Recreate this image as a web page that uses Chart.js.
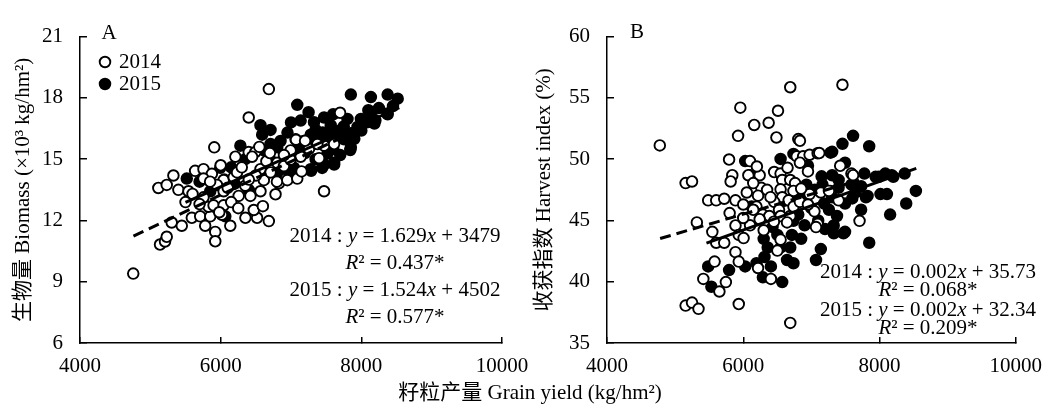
<!DOCTYPE html>
<html>
<head>
<meta charset="utf-8">
<script src="https://cdn.jsdelivr.net/npm/chart.js@4.4.0/dist/chart.umd.min.js"></script>
<style>
  html, body { margin: 0; padding: 0; background: #fff; }
  #wrap { position: relative; width: 1059px; height: 412px; }
  canvas { position: absolute; left: 0; top: 0; }
</style>
</head>
<body>
<div id="wrap">
  <canvas id="chartA" width="1059" height="412"></canvas>
  <canvas id="chartB" width="1059" height="412"></canvas>
</div>
<script>
// grain yield (kg/hm2) vs biomass (x10^3 kg/hm2), panel A
const biomass2014 = [
  [4757,9.40],[5138,10.82],[5209,10.97],[5233,11.20],
  [5114,13.59],[5233,13.74],[5328,14.20],[5399,13.50],[5542,13.43],[5637,14.43],[5756,14.51],[5875,14.28],[5756,14.05],[5600,13.30],
  [5304,11.90],[5447,11.74],[5590,12.13],[5709,12.20],[5780,11.74],[5923,11.44],[5923,10.98],[5852,12.20],[5828,12.67],[5899,12.74],
  [6042,12.74],[6018,12.28],[6137,11.74],[6352,12.13],[6518,12.13],[6685,11.97],[6471,12.51],
  [6256,13.20],[6423,13.20],[6566,13.43],[6614,13.97],[6780,13.28],[6828,13.82],[6947,13.97],[7089,14.05],[6042,13.97],
  [6185,14.12],[6233,14.35],[5947,13.74],[6042,13.43],[5756,13.13],
  [6209,15.12],[6399,15.35],[6494,15.35],[6447,15.12],[6566,14.51],[6709,14.35],[6804,14.82],[6899,14.66],[6994,14.97],
  [7065,15.97],[6994,15.43],[7137,15.12],[7256,15.50],[7399,15.05],[7470,15.66],[7613,15.74],[7375,15.74],
  [5909,15.58],[6399,17.04],[6685,18.43],[7470,13.43],[7698,17.27],[7071,15.95],
  [6100,13.60],[6300,14.60],[6500,14.20],[6650,14.90],[6350,13.70],[6150,12.90],[5980,12.40],[6700,15.30],[6900,15.20],
  [7200,15.90],[6550,15.60],[5700,12.80],[5500,12.90],[6250,12.60],[6600,12.70],[6800,13.90],[7150,14.40],[6400,14.00],
  [6000,14.70],[5850,13.90]
];
const biomass2015 = [
  [7851,18.16],[8136,18.04],[8374,18.16],[8517,17.96],[7089,17.66],
  [6566,16.66],[6709,16.43],[6590,16.20],
  [7137,16.89],[7327,16.81],[7470,17.04],[7351,16.43],[7565,16.66],[7708,16.43],[7803,16.97],[7994,16.97],[8136,17.27],
  [8374,17.20],[8089,16.81],[7946,16.58],[7851,16.27],[7756,15.97],[7661,16.20],[7280,16.20],[7184,15.89],[7375,16.05],
  [7518,16.05],[7851,15.58],[7518,15.27],[7613,14.82],[7470,14.74],[7280,14.51],[6971,14.35],[7042,14.58],[6804,15.58],
  [6851,15.89],[6709,15.74],[6614,15.43],[6280,15.66],[5994,14.58],[5518,14.05],[6066,12.20],[5852,13.43],
  [7843,15.45],[7943,16.41],[8043,16.88],[8186,16.74],[8371,17.24],[7443,14.57],[7614,14.74],[7286,14.43],[8250,17.50],[8450,17.60],
  [7000,15.20],[7100,15.60],[7200,15.30],[7300,15.70],[7400,15.90],[7600,15.50],[7700,15.20],[7900,16.00],[8000,16.40],
  [8200,16.90],[7550,16.40],[7450,16.30],[6950,16.30],[6900,15.00],[7000,16.80],[6450,15.20],[6350,15.00],[6150,14.60],
  [6800,14.30],[7350,15.00],[7750,16.60],[8100,17.40],[7600,17.20],[7250,17.30],[6700,15.00],[6200,13.80],[6400,13.50],
  [5700,13.90],[6050,14.00]
];

// grain yield (kg/hm2) vs harvest index (%), panel B
const harvest2014 = [
  [6690,55.87],[7456,56.07],[4775,51.12],[5957,54.20],[6510,53.95],[6161,52.79],[6373,52.97],[5924,51.90],[6487,51.77],
  [6808,51.64],[6832,51.50],
  [5154,48.05],[5248,48.18],[5485,46.64],[5603,46.64],[5721,46.77],[5886,46.64],[5319,44.84],
  [5546,44.07],[5603,43.18],[5721,43.18],[5886,44.59],[5934,43.82],[6005,43.56],[5886,42.41],[5934,41.64],[5579,41.64],
  [5414,40.23],[5650,39.20],[5745,39.97],[5154,38.05],[5248,38.30],[5343,37.79],[5934,38.18],[6690,36.64],[6217,41.12],
  [6406,40.23],[6501,42.54],[6548,43.43],
  [5792,49.97],[5839,48.69],[5815,48.18],[6099,49.84],[6075,48.69],[6241,48.69],[6265,47.66],[6147,48.05],[6052,47.28],
  [6217,47.02],[6454,48.95],[6548,48.82],[6572,48.30],[6690,48.30],[6761,48.05],[6737,47.41],[6548,47.54],[6572,46.89],
  [6666,46.64],[6454,46.51],[6525,45.87],[6194,46.13],[6288,45.48],[6383,45.36],[6548,45.36],[6690,45.36],[6737,46.13],
  [6832,46.51],[7045,45.74],[7092,44.72],[7068,44.46],[6643,44.84],[6241,45.10],[6147,45.87],
  [6785,50.23],[6879,50.23],[6974,50.36],[7092,50.48],[7116,50.50],[6832,49.71],[7423,49.46],[7588,48.82],[7612,48.69],
  [7399,46.64],[7281,47.41],[7139,47.28],[6974,47.15],[7707,44.97],[7258,47.41],
  [6350,47.50],[6400,46.90],[6000,46.30],[6100,44.60],[6300,44.20],[6450,44.90],[6850,47.60],[6950,46.30],[6000,45.20],
  [5800,45.60],[6650,49.30],[6200,49.40],[6950,49.00]
];
const harvest2015 = [
  [7612,51.90],[7456,51.25],[7849,51.05],[7281,50.53],[6737,50.43],[6548,50.02],[6028,49.84],[6950,49.46],[7305,48.69],
  [7494,49.71],[7305,50.60],
  [7778,48.82],[7943,48.56],[8085,48.82],[8203,48.56],[8369,48.82],[8534,47.41],[8392,46.38],[8156,45.48],[8109,47.15],
  [8014,47.15],[7849,43.18],[7801,46.89],[7730,45.87],[7494,46.38],[7376,45.36],[7494,44.07],[7328,44.59],[7258,45.87],
  [7187,46.38],[7305,46.89],[7399,47.66],[7588,47.92],[7730,47.79],[7163,47.92],[6927,47.92],[6927,46.89],[6808,45.48],
  [6714,43.82],[6690,42.79],[6643,41.77],[6737,41.51],[6501,43.82],[6430,44.46],[6359,42.79],[6312,42.02],[6406,41.25],
  [6288,40.36],[6572,39.97],[6194,41.51],[6028,41.25],[5792,40.95],[5485,41.25],[5532,39.59],[7139,42.66],[7068,41.77],
  [6123,46.13],[6737,44.97],[6099,48.69],
  [7329,43.95],[7471,43.95],[7825,47.00],[7990,48.56],[8180,48.69],
  [7000,46.00],[7100,45.00],[7200,44.30],[6900,44.60],[6600,46.60],[6800,46.90],[7050,47.50],[7600,46.80],[7650,47.30],
  [6850,43.50],[6550,42.80],[6300,43.50],[7150,48.60],[7400,48.30]
];

// trend lines: slope, intercept, x range (A in kg/hm2, shown /1000)
const fitA2014 = { slope: 1.629, icpt: 3479, from: 4760, to: 7700, div: 1000 };
const fitA2015 = { slope: 1.524, icpt: 4502, from: 5500, to: 8540, div: 1000 };
const fitB2014 = { slope: 0.00163, icpt: 35.73, from: 4780, to: 7700, div: 1 };
const fitB2015 = { slope: 0.00198, icpt: 32.34, from: 5460, to: 8540, div: 1 };

const years = ['2014', '2015'];
const eqA = [
  [['2014 : ', 0], ['y', 1], [' = 1.629', 0], ['x', 1], [' + 3479', 0]],
  [['R', 1], ['²', 0], [' = 0.437*', 0]],
  [['2015 : ', 0], ['y', 1], [' = 1.524', 0], ['x', 1], [' + 4502', 0]],
  [['R', 1], ['²', 0], [' = 0.577*', 0]]
];
const eqB = [
  [['2014 : ', 0], ['y', 1], [' = 0.002', 0], ['x', 1], [' + 35.73', 0]],
  [['R', 1], ['²', 0], [' = 0.068*', 0]],
  [['2015 : ', 0], ['y', 1], [' = 0.002', 0], ['x', 1], [' + 32.34', 0]],
  [['R', 1], ['²', 0], [' = 0.209*', 0]]
];
const xTitle = '籽粒产量 Grain yield (kg/hm²)';

const FONT = "'Liberation Serif', 'Noto Sans CJK SC', serif";
Chart.defaults.font.family = FONT;
Chart.defaults.font.size = 21;
Chart.defaults.color = '#000';

const R = 5.3, BW = 1.9;

function pts(arr) { return arr.map(p => ({ x: p[0], y: p[1] })); }
function fitLine(f) {
  return [f.from, f.to].map(x => ({ x: x, y: (f.slope * x + f.icpt) / f.div }));
}

function drawRuns(ctx, runs, cx, cy) {
  let w = 0;
  runs.forEach(r => {
    ctx.font = (r[1] ? 'italic ' : '') + '21px ' + FONT;
    w += ctx.measureText(r[0]).width;
  });
  let x = cx - w / 2;
  ctx.textAlign = 'left';
  ctx.textBaseline = 'middle';
  runs.forEach(r => {
    ctx.font = (r[1] ? 'italic ' : '') + '21px ' + FONT;
    ctx.fillText(r[0], x, cy);
    x += ctx.measureText(r[0]).width;
  });
}

function makeDatasets(d14, d15, f14, f15) {
  return [
    { label: 'fit 2014', data: fitLine(f14), showLine: true, borderColor: '#000', borderWidth: 3,
      borderDash: [11, 6], pointRadius: 0, order: 0 },
    { label: 'fit 2015', data: fitLine(f15), showLine: true, borderColor: '#000', borderWidth: 3,
      pointRadius: 0, order: 0 },
    { label: years[0], data: pts(d14), pointRadius: R, pointBorderWidth: BW,
      pointBackgroundColor: '#fff', pointBorderColor: '#000', order: 1 },
    { label: years[1], data: pts(d15), pointRadius: R, pointBorderWidth: BW,
      pointBackgroundColor: '#000', pointBorderColor: '#000', order: 2 }
  ];
}

function makeScales(yMin, yMax, yStep, yTitle, titlePad, yWidth) {
  return {
    x: {
      type: 'linear', min: 4000, max: 10000,
      ticks: { stepSize: 2000, padding: 17, maxRotation: 0, callback: v => String(v) },
      grid: { drawOnChartArea: false, drawTicks: true, tickLength: -6, color: '#000', lineWidth: 1.5 },
      border: { color: '#000', width: 1.5 },
      afterFit: s => { s.height = 69; }
    },
    y: {
      min: yMin, max: yMax,
      ticks: { stepSize: yStep, padding: 24, callback: v => String(v) },
      grid: { drawOnChartArea: false, drawTicks: true, tickLength: -7, color: '#000', lineWidth: 1.5 },
      border: { color: '#000', width: 1.5 },
      title: { display: true, text: yTitle, padding: { top: titlePad, bottom: 0 }, font: { size: 21, lineHeight: 1.2 } },
      afterFit: s => { s.width = yWidth; }
    }
  };
}

const notesA = {
  id: 'notesA',
  afterDraw(chart) {
    const ctx = chart.ctx;
    ctx.save();
    ctx.fillStyle = '#000';
    ctx.font = '21px ' + FONT;
    ctx.textAlign = 'center'; ctx.textBaseline = 'middle';
    ctx.fillText('A', 109, 33);
    // legend
    [[62, '#fff'], [84, '#000']].forEach((it, i) => {
      ctx.beginPath();
      ctx.arc(105, it[0], R, 0, Math.PI * 2);
      ctx.fillStyle = it[1]; ctx.fill();
      ctx.lineWidth = BW; ctx.strokeStyle = '#000'; ctx.stroke();
      ctx.fillStyle = '#000';
      ctx.textAlign = 'left';
      ctx.fillText(years[i], 119, it[0]);
    });
    [236, 263, 290, 317].forEach((y, i) => drawRuns(ctx, eqA[i], 395, y));
    ctx.font = '21px ' + FONT;
    ctx.textAlign = 'center'; ctx.textBaseline = 'middle';
    ctx.fillText(xTitle, 530, 393);
    ctx.restore();
  }
};
const notesB = {
  id: 'notesB',
  afterDraw(chart) {
    const ctx = chart.ctx;
    ctx.save();
    ctx.fillStyle = '#000';
    ctx.font = '21px ' + FONT;
    ctx.textAlign = 'center'; ctx.textBaseline = 'middle';
    ctx.fillText('B', 637, 32);
    [272, 290, 310, 328].forEach((y, i) => drawRuns(ctx, eqB[i], 928, y));
    ctx.restore();
  }
};

const common = {
  responsive: false, animation: false, events: [],
  plugins: { legend: { display: false }, tooltip: { enabled: false } }
};

new Chart(document.getElementById('chartA'), {
  type: 'scatter',
  data: { datasets: makeDatasets(biomass2014, biomass2015, fitA2014, fitA2015) },
  options: Object.assign({}, common, {
    layout: { padding: { left: 0, right: 557, top: 18, bottom: 0 } },
    scales: makeScales(6, 21, 3, '生物量 Biomass (×10³ kg/hm²)', 11, 80)
  }),
  plugins: [notesA]
});

new Chart(document.getElementById('chartB'), {
  type: 'scatter',
  data: { datasets: makeDatasets(harvest2014, harvest2015, fitB2014, fitB2015) },
  options: Object.assign({}, common, {
    layout: { padding: { left: 530, right: 29, top: 18, bottom: 0 } },
    scales: makeScales(35, 60, 5, '收获指数 Harvest index (%)', 1.5, 77)
  }),
  plugins: [notesB]
});
</script>
</body>
</html>
